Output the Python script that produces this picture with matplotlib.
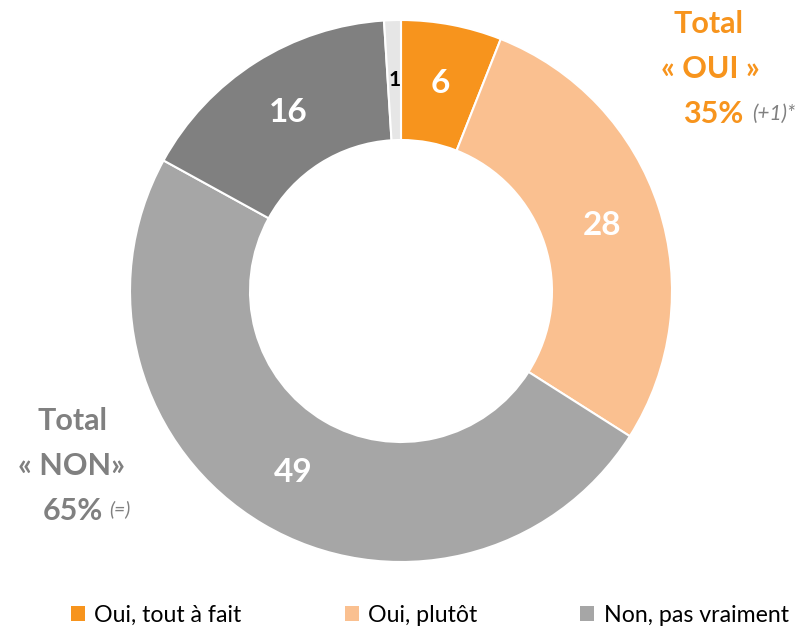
import numpy as np
import matplotlib.pyplot as plt

plt.rcParams['font.family'] = ['Lato', 'DejaVu Sans']

# valeurs (%)
categories = ['Oui, tout à fait', 'Oui, plutôt', 'Non, pas vraiment', 'Non, pas du tout', 'Ne sait pas']
values = [6, 28, 49, 16, 1]
colors = ['#F7941D', '#FAC090', '#A6A6A6', '#808080', '#E6E6E6']
label_colors = ['white', 'white', 'white', 'white', 'black']

fig = plt.figure(figsize=(8.07, 6.27), dpi=100)
ax = fig.add_axes([0, 0, 1, 1])

R = 271
cx, cy = 401, 336
wedges, _ = ax.pie(values, colors=colors, startangle=90, counterclock=False,
                   radius=R, center=(cx, cy), frame=True,
                   wedgeprops=dict(width=120, edgecolor='white', linewidth=1.5))
ax.set_xlim(0, 807)
ax.set_ylim(0, 627)
ax.set_aspect('equal')
ax.axis('off')

# étiquettes de valeurs au milieu de l'anneau
r_lab = R - 60
for w, v, c in zip(wedges, values, label_colors):
    ang = np.deg2rad((w.theta1 + w.theta2) / 2)
    fs = 15 if v < 3 else 24
    ax.text(cx + r_lab * np.cos(ang), cy + r_lab * np.sin(ang), str(v),
            ha='center', va='center', color=c, fontsize=fs, fontweight='bold')

orange = '#F7941D'
grey = '#808080'
ax.text(709, 603, 'Total', color=orange, fontsize=22, fontweight='bold', ha='center', va='center')
ax.text(710, 558, '« OUI »', color=orange, fontsize=22, fontweight='bold', ha='center', va='center')
ax.text(743, 513, '35%', color=orange, fontsize=22, fontweight='bold', ha='right', va='center')
ax.text(752, 513, '(+1)*', color=grey, fontsize=15, fontstyle='italic', ha='left', va='center')

ax.text(73, 206, 'Total', color=grey, fontsize=22, fontweight='bold', ha='center', va='center')
ax.text(72, 161, '« NON»', color=grey, fontsize=22, fontweight='bold', ha='center', va='center')
ax.text(103, 116, '65%', color=grey, fontsize=22, fontweight='bold', ha='right', va='center')
ax.text(109, 118, '(=)', color=grey, fontsize=14, fontstyle='italic', ha='left', va='center')

leg = ax.legend(wedges[:3], categories[:3], ncol=3, loc='center left',
                bbox_to_anchor=(71, 12), bbox_transform=ax.transData,
                frameon=False, fontsize=16.7, handlelength=0.6, handleheight=0.6,
                handletextpad=0.4, columnspacing=4.45, borderpad=0, borderaxespad=0)
for h in leg.legend_handles:
    h.set_edgecolor('none')

fig.savefig('out.png', dpi=100)
